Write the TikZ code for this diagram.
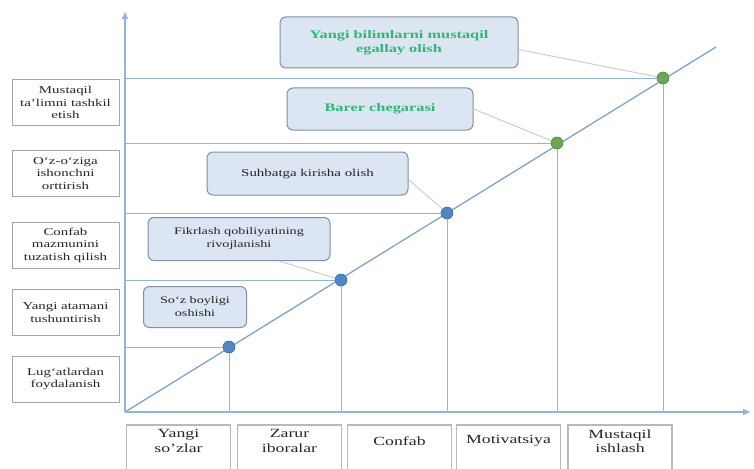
\documentclass[tikz,border=0pt]{standalone}
\usepackage{fontspec}
\setmainfont{Liberation Serif}[FakeStretch=1.42]
\usetikzlibrary{arrows.meta}
\definecolor{axisblue}{HTML}{8DB4E2}
\definecolor{dotblue}{HTML}{4F86C6}
\definecolor{dotgreen}{HTML}{6AA84F}
\definecolor{lblfill}{HTML}{DCE6F2}
\definecolor{lbldraw}{HTML}{7F8FA6}
\definecolor{txtgreen}{HTML}{2EB872}
\definecolor{callout}{HTML}{C9CED6}
\begin{document}
\begin{tikzpicture}[x=1pt,y=-1pt,
  leftbox/.style={draw=gray!70,line width=0.9pt,fill=white,minimum width=107pt,minimum height=46pt,inner sep=1pt,align=center,font=\fontsize{10.5}{12.5}\selectfont,text=black!85},
  lbl/.style={draw=lbldraw,line width=1pt,fill=lblfill,rounded corners=6pt,inner sep=1pt,align=center,font=\fontsize{10}{13}\selectfont,text=black!85},
  glbl/.style={lbl,font=\fontsize{11.5}{14}\selectfont\bfseries,text=txtgreen},
  botbox/.style={draw=gray!55,line width=1.3pt,fill=white,minimum width=104pt,minimum height=48pt,inner sep=0pt},
  bottxt/.style={align=center,font=\fontsize{12.5}{14.5}\selectfont,text=black!85},
  axis/.style={draw=axisblue,line width=1.4pt},
  guide/.style={draw=axisblue,line width=0.9pt},
  diag/.style={draw=axisblue!90!black,line width=1.3pt},
  dotb/.style={circle,fill=dotblue,draw=dotblue!80!black,line width=0.4pt,minimum size=12pt,inner sep=0pt},
  dotg/.style={circle,fill=dotgreen,draw=dotgreen!80!black,line width=0.4pt,minimum size=12pt,inner sep=0pt},
  call/.style={draw=callout,line width=1pt}]
\useasboundingbox (0,0) rectangle (754,468);

% axes
\coordinate (O) at (125,412);
\coordinate (ytop) at (125,12);
\coordinate (xend) at (750,412);
\coordinate (dend) at (716,47);

% dots
\node[dotb] (d1) at (229,347) {};
\node[dotb] (d2) at (341,280) {};
\node[dotb] (d3) at (447,213) {};
\node[dotg] (d4) at (557,143) {};
\node[dotg] (d5) at (663,78) {};

% guides
\foreach \d in {d1,d2,d3,d4,d5}{
  \draw[guide] (O |- \d) -- (\d);
  \draw[guide] (\d) -- (\d |- O);
}
\draw[diag] (O) -- (dend);
\foreach \d in {d1,d2,d3}{\node[dotb] at (\d) {};}
\foreach \d in {d4,d5}{\node[dotg] at (\d) {};}

\draw[axis,-{Triangle[length=7pt,width=6pt]}] (O) -- (ytop);
\draw[axis,-{Triangle[length=7pt,width=6pt]}] (O) -- (xend);

% left boxes
\node[leftbox] (l1) at (65.5,102.5) {Mustaqil\\ta’limni tashkil\\etish};
\node[leftbox] (l2) at (65.5,173.5) {O‘z-o‘ziga\\ishonchni\\orttirish};
\node[leftbox] (l3) at (65.5,245) {Confab\\mazmunini\\tuzatish qilish};
\node[leftbox] (l4) at (65.5,312.5) {Yangi atamani\\tushuntirish};
\node[leftbox] (l5) at (65.5,379) {Lug‘atlardan\\foydalanish};

% bottom boxes
\node[botbox] (b1) at (178.5,449) {};
\node[botbox] (b2) at (289.5,449) {};
\node[botbox] (b3) at (399.5,449) {};
\node[botbox] (b4) at (508.5,449) {};
\node[botbox] (b5) at (620,449) {};
\node[bottxt] (t1) at (178.5,441) {Yangi\\so’zlar};
\node[bottxt] (t2) at (289.5,441) {Zarur\\iboralar};
\node[bottxt] (t3) at (399.5,441) {Confab};
\node[bottxt] (t4) at (508.5,441) {Motivatsiya};
\node[bottxt] (t5) at (620,441) {Mustaqil\\ishlash};

% label boxes
\node[lbl,minimum width=103pt,minimum height=41pt] (s1) at (195,307) {So‘z boyligi\\oshishi};
\node[lbl,minimum width=182pt,minimum height=43pt] (s2) at (239,239) {Fikrlash qobiliyatining\\rivojlanishi};
\node[lbl,minimum width=201pt,minimum height=43pt,font=\fontsize{10.5}{13}\selectfont] (s3) at (307.5,173.5) {Suhbatga kirisha olish};
\node[glbl,minimum width=186pt,minimum height=42pt] (s4) at (380,109) {Barer chegarasi};
\node[glbl,minimum width=238pt,minimum height=51pt] (s5) at (399,42.5) {Yangi bilimlarni mustaqil\\egallay olish};

% callouts
\draw[call] (s5.east) ++(0,7) -- (d5);
\draw[call] (s4.east) -- (d4);
\draw[call] (s3.east) ++(0,6) -- (d3);
\draw[call] (s2.south) ++(40,0) -- (d2);
\end{tikzpicture}
\end{document}
